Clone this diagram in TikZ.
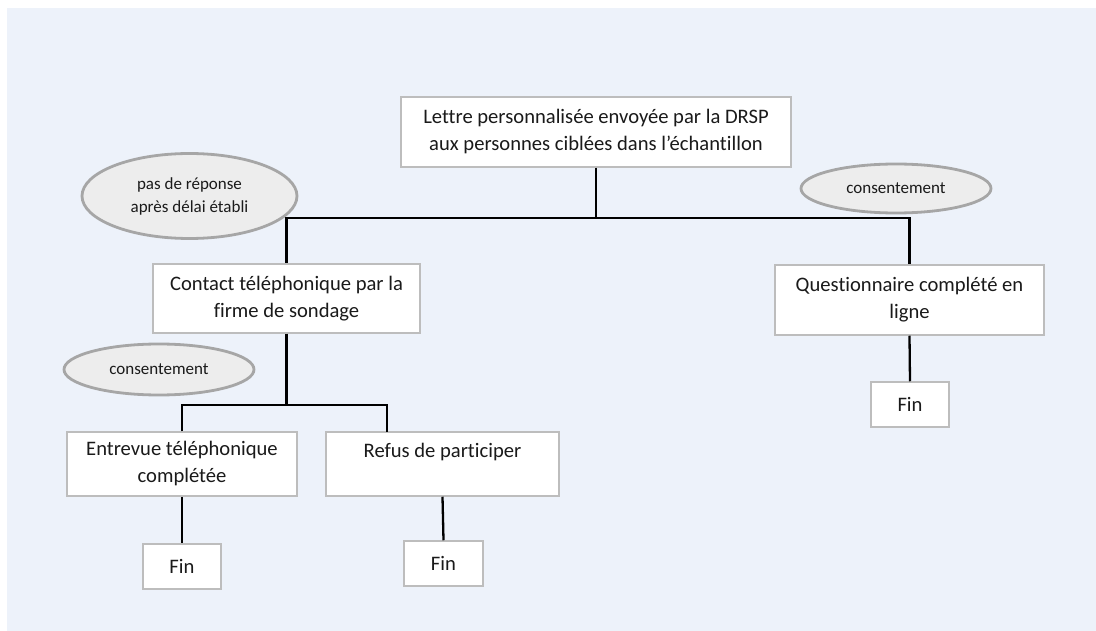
\documentclass[tikz,border=0pt]{standalone}
\usepackage{fontspec}
\setmainfont{Carlito}[Ligatures=NoCommon]
\usetikzlibrary{shapes.geometric}
\definecolor{bgblue}{HTML}{EDF2FA}
\definecolor{boxline}{HTML}{BDBDBD}
\definecolor{ovline}{HTML}{A6A6A6}
\definecolor{ovfill}{HTML}{EDEDED}
\definecolor{txt}{HTML}{1A1A1A}
\begin{document}
\begin{tikzpicture}[x=1pt,y=-1pt,
  stepbox/.style={draw=boxline,line width=1.5pt,fill=white,inner sep=0pt,align=center,
    text=txt,font=\fontsize{20.6}{27}\selectfont},
  oval/.style={ellipse,draw=ovline,line width=2.8pt,fill=ovfill,inner sep=0pt,align=center,
    text=txt,font=\fontsize{17}{23}\selectfont},
  link/.style={line width=2.3pt,black}]
\useasboundingbox (0,0) rectangle (1096,631);
\fill[white] (0,0) rectangle (1096,631);
\fill[bgblue] (7,8) rectangle (1096,631);

\node[stepbox,minimum width=390pt,minimum height=70pt] (top) at (596,132)
  {Lettre personnalisée envoyée par la DRSP\\aux personnes ciblées dans l’échantillon};
\node[stepbox,minimum width=267pt,minimum height=69pt] (contact) at (286.5,298.5)
  {Contact téléphonique par la\\firme de sondage};
\node[stepbox,minimum width=269pt,minimum height=70pt] (quest) at (909.5,300)
  {Questionnaire complété en\\ligne};
\node[stepbox,minimum width=230pt,minimum height=64pt] (entrevue) at (182,464)
  {Entrevue téléphonique\\complétée};
\node[stepbox,minimum width=233pt,minimum height=64pt] (refus) at (442.5,464)
  {Refus de participer\\~};
\node[stepbox,minimum width=78pt,minimum height=45pt] (fin1) at (182,566.5) {Fin};
\node[stepbox,minimum width=79pt,minimum height=45pt] (fin2) at (443.5,563.5) {Fin};
\node[stepbox,minimum width=78pt,minimum height=45pt] (fin3) at (910,404.5) {Fin};

\node[oval,minimum width=215pt,minimum height=85pt] (e1) at (189.5,196)
  {pas de réponse\\après délai établi};
\node[oval,minimum width=190pt,minimum height=49pt] (e2) at (896,188.5) {consentement};
\node[oval,minimum width=190pt,minimum height=51pt] (e3) at (159,369.5) {consentement};

\coordinate (j1) at (top.south |- 0,218);
\coordinate (j2) at (contact.south |- 0,405);
\coordinate (r1) at (387,432);

\draw[link] (top.south) -- (j1);
\draw[link] (contact.north) |- (j1) -| (quest.north);
\draw[link] (contact.south) -- (j2);
\draw[link] (entrevue.north) |- (j2) -| (r1);
\draw[link] (entrevue.south) -- (fin1.north);
\draw[link] (refus.south) -- (fin2.north);
\draw[link] (quest.south) -- (fin3.north);
\end{tikzpicture}
\end{document}
